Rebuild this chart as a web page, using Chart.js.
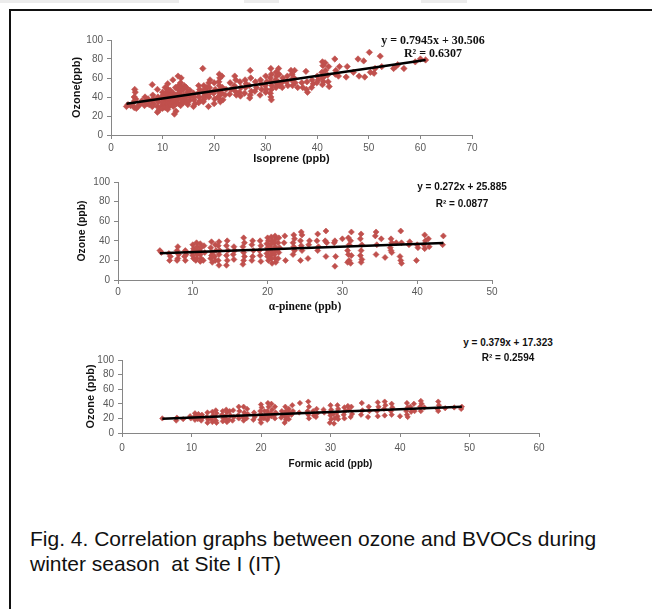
<!DOCTYPE html>
<html>
<head>
<meta charset="utf-8">
<script src="https://cdn.jsdelivr.net/npm/chart.js@4.4.1/dist/chart.umd.min.js"></script>
<style>
  body { margin: 0; background: #fff; width: 652px; height: 609px; overflow: hidden; position: relative; }
  canvas { position: absolute; }
  .frame { position: absolute; left: 9px; top: 9px; width: 700px; height: 700px; border-left: 2px solid #111; border-top: 2px solid #111; }
  .strip { position: absolute; top: 0; height: 3px; background: #ececec; }
  .eq { position: absolute; transform: translate(-50%, -50%); white-space: nowrap; color: #111; }
  .serif { font-family: "Liberation Serif", "DejaVu Serif", serif; font-weight: bold; font-size: 12px; }
  .sans { font-family: "Liberation Sans", Arial, sans-serif; font-weight: bold; font-size: 10px; }
  .caption { position: absolute; left: 30px; top: 526px; font-family: "Liberation Sans", Arial, sans-serif; font-size: 21px; line-height: 25px; color: #111; }
</style>
</head>
<body>
<div class="strip" style="left:0;width:179px"></div>
<div class="strip" style="left:244px;width:35px"></div>
<div class="strip" style="left:421px;width:46px"></div>
<div class="frame"></div>

<canvas id="c1" width="440" height="140" style="left:55px;top:30px"></canvas>
<canvas id="c2" width="450" height="145" style="left:55px;top:172px"></canvas>
<canvas id="c3" width="500" height="125" style="left:55px;top:350px"></canvas>

<div class="eq serif" style="left:433px;top:40px">y = 0.7945x + 30.506</div>
<div class="eq serif" style="left:433px;top:53px">R² = 0.6307</div>
<div class="eq sans" style="left:462px;top:186px">y = 0.272x + 25.885</div>
<div class="eq sans" style="left:462px;top:203px">R² = 0.0877</div>
<div class="eq sans" style="left:508px;top:342px">y = 0.379x + 17.323</div>
<div class="eq sans" style="left:508px;top:357px">R² = 0.2594</div>

<div class="caption">Fig. 4. Correlation graphs between ozone and BVOCs during<br>winter season&nbsp; at Site I (IT)</div>

<script>
// isoprene (ppb) vs ozone (ppb)
const isoprenePoints = [
  [3,30],[3.3,32],[3.8,31],[4.2,33],[4.5,29],[4.6,48],[4.7,45],[4.5,40],[4.8,38],[4.6,36],[5.2,30],[4.9,28],
  [5.6,32],[5.8,34],[6,36],[6.6,40],[6.8,35],[6.5,31],[7,33],[7.2,38],[7.4,32],
  [8,53],[8.1,42],[8.2,38],[7.9,36],[8.3,33],[8,30],
  [9,48],[9.1,40],[8.9,37],[9.2,35],[9,30],[9,24],[9.3,26],
  [10,45],[10.1,42],[9.9,40],[10,38],[10.2,36],[10,34],[10.1,32],[9.8,30],[10,28],
  [10.5,50],[10.6,44],[10.5,38],[10.7,35],[10.4,33],[10.6,31],[10.5,29],
  [11,54],[11.1,48],[11,46],[11.2,43],[10.9,40],[11,37],[11.1,35],[11,33],[11.2,30],[11,27],
  [11.5,47],[11.6,42],[11.5,39],[11.7,36],[11.5,34],[11.6,32],
  [12,58],[12.1,44],[12,40],[12.2,38],[12,35],[12.1,30],[12.3,22],
  [12.5,50],[12.6,42],[12.5,36],[12.7,33],[12.6,25],
  [13,62],[13.1,52],[13,48],[13.2,44],[13,38],[13.1,33],
  [13.6,60],[13.5,55],[13.7,50],[13.5,46],[13.6,40],[13.8,36],[13.5,31],
  [14.2,52],[14,48],[14.1,42],[14.3,38],[14,34],
  [14.6,50],[14.8,45],[14.5,40],[14.7,35],[14.9,32],
  [15.3,47],[15.1,43],[15.4,40],[15.2,36],
  [16,44],[16.2,40],[16.1,37],[16.3,33],[16,30],
  [17,52],[17.2,48],[16.9,44],[17.1,40],[17.3,36],[17,34],
  [17.8,70],[18,52],[18.1,48],[17.9,45],[18.2,42],[18,40],[18.1,38],[17.9,35],
  [18.6,50],[18.5,46],[18.7,42],
  [19.2,58],[19,55],[19.1,50],[19.3,45],[19,40],[18.9,30],
  [20,55],[20.2,48],[19.9,44],[20.1,38],[20,33],
  [21,64],[21.1,60],[20.9,56],[21,52],[21.2,48],[21,45],[21.1,42],[20.8,40],[21,38],[21.2,35],
  [21.5,62],[21.6,50],[21.5,44],[21.7,37],
  [22.3,48],[22.1,42],
  [23.1,55],[23.3,48],[23,43],
  [24,62],[24.2,58],[23.9,52],[24.1,46],[24.3,42],
  [25,56],[25.2,50],[24.9,45],[25.1,41],
  [26,58],[26.2,54],[26.1,50],[25.9,44],
  [27,68],[27.1,60],[26.8,52],[27.2,46],[27,42],[26.9,39],
  [28,56],[28.2,50],[27.9,46],
  [29,58],[29.1,54],[29.2,48],[28.9,42],
  [30,62],[30.2,56],[29.9,52],[30.1,48],[30,45],
  [31,70],[31.1,64],[30.9,60],[31,56],[31.2,52],[31.1,48],[30.9,44],[31,40],[31.1,37],
  [32,66],[32.1,62],[31.9,58],[32.2,54],[32,50],
  [32.5,70],[32.6,64],[32.4,56],[32.7,52],
  [33.3,60],[33.1,55],[33.2,50],
  [34.2,62],[34,56],[34.3,52],
  [34.9,68],[35.1,64],[35,58],[35.2,52],
  [35.6,68],[35.5,60],[35.7,55],
  [36.2,50],[37,55],[37.2,50],
  [37.8,67],[38,56],[37.9,48],[38.1,45],
  [39,58],[39.2,54],[38.9,50],
  [40,62],[40.2,58],[39.9,55],
  [41,77],[41.1,73],[40.9,66],[41,60],[41.2,56],[41,53],
  [41.5,76],[41.6,68],[41.4,62],
  [42.2,72],[42,63],[42.1,56],[42.3,51],
  [43.4,80],[43.6,68],[43.5,64],
  [44.3,72],[44.1,62],
  [45.8,72],[45.6,61],[47,66],
  [47.9,80],[48.1,62],[49,78],[49.2,61],
  [50.1,87],[50.3,66],[51.2,70],[51,65],
  [52.2,83],[52.5,72],[54.8,70],[55.2,72],[55.6,74],
  [56.8,70],[59,77],[60,80],[61,79]
];
const isopreneTrend = [[3,32.9],[61,79.0]];

// alpha-pinene (ppb) vs ozone (ppb)
const pinenePoints = [
  [5.6,30],[5.8,28],
  [6.8,27],[7,24],[6.9,20],
  [8,34],[7.9,30],[8.1,26],[8,22],[7.9,20],
  [9,30],[9.1,26],[8.9,24],[9,20],
  [10,36],[10.1,32],[9.9,28],[10,25],[10.1,22],
  [10.5,38],[10.6,34],[10.4,30],[10.5,28],[10.6,26],[10.5,22],[10.4,20],
  [11,37],[11.1,33],[10.9,30],[11,26],[11.1,22],[11,19],
  [11.5,35],[11.6,28],[11.4,20],
  [12.5,39],[12.4,33],[12.6,28],[12.5,25],[12.4,22],[12.6,18],
  [13,36],[13.1,30],[12.9,24],[13,20],
  [13.5,39],[13.4,35],[13.6,30],[13.5,26],[13.4,20],[13.5,15],
  [14.6,40],[14.5,35],[14.7,30],[14.5,25],[14.6,20],[14.5,15],
  [15.5,34],[15.6,30],[15.4,26],[15.5,21],
  [16.8,43],[16.9,38],[16.7,34],[16.8,28],[16.9,24],[16.8,20],[16.7,16],
  [18,40],[17.9,36],[18.1,30],[18,24],[17.9,20],
  [19,40],[19.1,35],[18.9,30],[19,25],[19.1,19],
  [20,43],[20.1,40],[19.9,37],[20,33],[20.1,30],[19.9,27],[20,24],[20.1,20],
  [20.5,44],[20.6,40],[20.4,36],[20.5,32],[20.6,28],[20.4,25],[20.5,22],[20.6,17],
  [21,45],[21.1,42],[20.9,38],[21,34],[21.1,30],[20.9,26],[21,22],[21.1,18],
  [21.5,43],[21.4,38],[21.6,33],[21.5,28],[21.4,22],
  [22.3,45],[22.2,38],[22.4,20],
  [23.5,46],[23.6,42],[23.4,38],[23.5,34],[23.6,30],[23.4,26],
  [24.5,49],[24.6,46],[24.4,40],[24.5,35],[24.6,30],[24.4,20],
  [25.6,40],[25.5,36],[25.4,22],
  [26.7,47],[26.6,40],[26.8,34],[26.7,30],
  [27.8,50],[27.7,40],[27.9,38],[27.8,24],
  [29,40],[28.9,38],[29.1,24],[29,14],
  [30,42],
  [30.8,43],[30.9,36],[30.7,30],[30.8,26],[30.9,20],[30.7,18],
  [31.2,49],[31.1,40],[31.2,25],[31.1,17],
  [32.5,47],[32.4,42],[32.6,36],[32.5,30],[32.4,25],[32.6,21],[32.5,18],
  [34.5,49],[34.4,45],[34.6,36],[34.5,26],
  [35.2,42],[35.7,23],
  [36.5,42],[36.6,38],[36.4,33],[36.5,30],[36.6,28],
  [37.2,38],
  [37.8,50],[37.9,38],[37.7,24],[37.8,20],[37.9,17],
  [39,39],[38.9,36],
  [40,36],[40.1,33],[39.9,20],
  [41,46],[41.1,40],[40.9,36],[41,32],
  [41.5,42],[41.6,34],
  [43.5,45],[43.4,36]
];
const pineneTrend = [[5.6,27.4],[43.5,37.7]];

// formic acid (ppb) vs ozone (ppb)
const formicPoints = [
  [5.8,20],[7.8,17],[7.9,21],[8.8,19],[9.8,23],[9.9,20],
  [10.5,27],[10.6,24],[10.4,21],[10.5,18],
  [11,26],[11.1,22],[10.9,19],
  [11.5,25],[11.6,21],[11.4,17],
  [12.3,28],[12.2,22],[12.4,18],[12.3,14],
  [13,29],[13.1,24],[12.9,19],[13,15],
  [13.5,31],[13.6,27],[13.4,22],[13.5,17],[13.6,14],
  [14.5,30],[14.4,25],[14.6,20],[14.5,16],
  [15,32],[15.1,28],[14.9,23],[15,19],[15.1,15],
  [15.5,30],[15.6,24],[15.4,18],
  [16,31],[16.1,22],[15.9,17],
  [16.8,36],[16.9,30],[16.7,24],[16.8,20],
  [17.5,36],[17.6,28],[17.4,22],[17.5,17],
  [18,33],[18.1,26],[17.9,20],
  [19,28],[19.1,22],[18.9,18],
  [20,39],[20.1,35],[19.9,30],[20,26],[20.1,22],[19.9,18],[20,14],
  [20.5,30],[20.6,24],[20.4,20],
  [21,41],[21.1,36],[20.9,30],[21,26],[21.1,22],[20.9,18],
  [21.5,40],[21.6,32],[21.4,27],[21.5,23],
  [22,36],[22.1,28],[21.9,24],[22,20],
  [23,30],[23.1,25],[22.9,21],
  [23.5,36],[23.6,30],[23.4,26],[23.5,22],[23.6,18],[23.4,14],
  [24,33],[24.1,28],[23.9,24],[24,19],
  [24.5,38],[24.6,30],[24.4,25],
  [25.6,41],[25.5,28],
  [26.8,43],[26.9,36],[26.7,30],[26.8,25],[26.9,20],
  [27.5,30],[27.6,24],
  [28,33],[28.1,27],[27.9,22],
  [29,32],[29.1,28],
  [30,38],[30.1,32],[29.9,28],[30,24],[30.1,19],[29.9,14],
  [30.5,13],[30.6,20],[30.4,26],
  [31,38],[31.1,33],[30.9,28],[31,23],[31.1,19],
  [32,35],[32.1,30],[31.9,25],[32,20],
  [32.5,37],[32.6,32],
  [33,36],[33.1,26],[32.9,22],
  [34.5,41],[34.6,31],[34.4,25],
  [35.5,36],[35.6,30],[35.4,22],
  [36.8,42],[36.9,36],[36.7,30],[36.8,23],
  [37.8,43],[37.9,38],[37.7,33],[37.8,24],
  [38.8,40],[38.9,35],[38.7,30],[38.8,25],
  [40,23],
  [41,41],[41.1,35],[40.9,30],[41,25],[41.1,22],
  [41.5,36],[41.6,29],
  [42,40],[42.1,30],
  [43,44],[43.1,40],[42.9,36],[43,30],
  [43.5,35],
  [45.5,43],[45.6,38],[45.4,33],[45.5,30],
  [46.5,34],[47.8,35],[48.8,33],[48.9,36]
];
const formicTrend = [[5.8,19.5],[48.9,35.9]];

const ozoneTicks = [0, 20, 40, 60, 80, 100];

const sans = '"Liberation Sans", Arial, sans-serif';
const serif = '"Liberation Serif", "Times New Roman", serif';
const axisGrey = '#868686';
const markerRed = '#c0504d';

function toXY(list) {
  return list.map(p => ({x: p[0], y: p[1]}));
}

function makeChart(id, cfg) {
  return new Chart(document.getElementById(id), {
    type: 'scatter',
    data: {
      datasets: [
        {
          type: 'line',
          data: toXY(cfg.trend),
          borderColor: '#000',
          borderWidth: 2.5,
          pointRadius: 0,
          fill: false
        },
        {
          data: toXY(cfg.points),
          pointStyle: 'rectRot',
          pointRadius: cfg.radius,
          backgroundColor: markerRed,
          borderColor: markerRed,
          borderWidth: 0.6
        }
      ]
    },
    options: {
      responsive: false,
      animation: false,
      layout: { padding: { top: cfg.padTop, right: cfg.padRight, left: 0, bottom: 0 } },
      plugins: { legend: { display: false }, tooltip: { enabled: false } },
      scales: {
        x: {
          type: 'linear',
          min: 0,
          max: cfg.xMax,
          ticks: { stepSize: 10, autoSkip: false, padding: cfg.xTickPad, color: '#595959', font: { family: sans, size: 10 } },
          grid: { drawOnChartArea: false, drawTicks: true, tickLength: 4, color: axisGrey },
          border: { color: axisGrey, width: 1 },
          title: {
            display: true,
            text: cfg.xTitle,
            color: '#111',
            font: { family: cfg.xTitleFont, size: cfg.xTitleSize, weight: 'bold' },
            padding: { top: 0, bottom: cfg.xTitlePad }
          },
          afterFit(s) { s.height = cfg.xHeight; }
        },
        y: {
          min: 0,
          max: 100,
          afterBuildTicks(s) { s.ticks = ozoneTicks.map(v => ({value: v})); },
          ticks: { autoSkip: false, padding: 4, color: '#595959', font: { family: sans, size: 10 } },
          grid: { drawOnChartArea: false, drawTicks: true, tickLength: 4, color: axisGrey },
          border: { color: axisGrey, width: 1 },
          title: {
            display: true,
            text: cfg.yTitle,
            color: '#111',
            font: { family: sans, size: cfg.yTitleSize, weight: 'bold' },
            padding: { top: cfg.yTitlePad, bottom: 0 }
          },
          afterFit(s) { s.width = cfg.yWidth; }
        }
      }
    }
  });
}

makeChart('c1', {
  points: isoprenePoints, trend: isopreneTrend, radius: 3.2, xMax: 70,
  xTitle: 'Isoprene (ppb)', xTitleFont: sans, xTitleSize: 11, xTitlePad: 4,
  yTitle: 'Ozone(ppb)', yTitleSize: 11, yTitlePad: 15,
  padTop: 9, padRight: 23, xHeight: 35, yWidth: 56, xTickPad: 3
});

makeChart('c2', {
  points: pinenePoints, trend: pineneTrend, radius: 3, xMax: 50,
  xTitle: 'α-pinene (ppb)', xTitleFont: serif, xTitleSize: 11.5, xTitlePad: 3,
  yTitle: 'Ozone (ppb)', yTitleSize: 10.5, yTitlePad: 21,
  padTop: 9, padRight: 13, xHeight: 37, yWidth: 63, xTickPad: 2
});

makeChart('c3', {
  points: formicPoints, trend: formicTrend, radius: 2.7, xMax: 60,
  xTitle: 'Formic acid (ppb)', xTitleFont: sans, xTitleSize: 10, xTitlePad: 5,
  yTitle: 'Ozone (ppb)', yTitleSize: 11, yTitlePad: 29,
  padTop: 9, padRight: 16, xHeight: 42, yWidth: 67, xTickPad: 5
});
</script>
</body>
</html>
